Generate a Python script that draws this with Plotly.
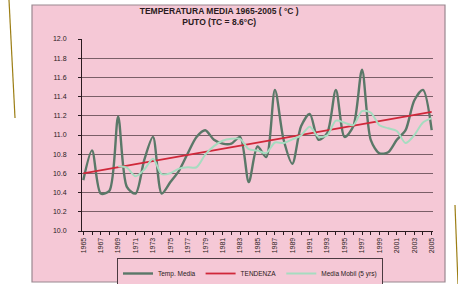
import plotly.graph_objects as go
import pandas as pd

years = list(range(1965, 2006))
temp_media = [10.53, 10.84, 10.39, 10.42, 11.19, 10.46, 10.39, 10.74, 10.98, 10.39,
              10.51, 10.63, 10.81, 10.98, 11.05, 10.95, 10.91, 10.91, 10.98, 10.51,
              10.88, 10.77, 11.47, 10.95, 10.70, 11.09, 11.22, 10.95, 11.02, 11.47,
              10.98, 11.09, 11.68, 10.95, 10.81, 10.82, 10.95, 11.05, 11.36, 11.47,
              11.05]
trend_years = [1965, 2005]
trend_values = [10.60, 11.24]
y_ticks = [10.0, 10.2, 10.4, 10.6, 10.8, 11.0, 11.2, 11.4, 11.6, 11.8, 12.0]

media_mobile = pd.Series(temp_media).rolling(5).mean().tolist()

L, R, T, B = 82, 25, 39, 53
W, H = 458, 284
pw, ph = W - L - R, H - T - B

def px(x):
    return (x - L) / pw

def py(y):
    return (H - B - y) / ph

fig = go.Figure()
fig.add_trace(go.Scatter(x=years, y=temp_media, mode="lines", name="Temp. Media",
                         line=dict(color="#5a7868", width=2.4, shape="spline", smoothing=0.8)))
fig.add_trace(go.Scatter(x=trend_years, y=trend_values, mode="lines", name="TENDENZA",
                         line=dict(color="#d0283a", width=1.8)))
fig.add_trace(go.Scatter(x=years, y=media_mobile, mode="lines", name="Media Mobil (5 yrs)",
                         line=dict(color="#a6dcc0", width=2, shape="spline", smoothing=0.8)))

shapes = [
    dict(type="rect", xref="paper", yref="paper", x0=px(32), x1=px(445), y0=py(282), y1=py(5),
         fillcolor="#f5c8d6", line=dict(color="#9a8890", width=1.2), layer="below"),
    dict(type="line", xref="paper", yref="paper", x0=px(9), x1=px(15), y0=py(0), y1=py(118),
         line=dict(color="#9c7e14", width=1.2)),
    dict(type="line", xref="paper", yref="paper", x0=px(455), x1=px(458), y0=py(205), y1=py(284),
         line=dict(color="#9c7e14", width=1.2)),
]

fig.update_layout(
    width=W, height=H,
    margin=dict(l=L, r=R, t=T, b=B, pad=0, autoexpand=False),
    paper_bgcolor="white",
    plot_bgcolor="rgba(0,0,0,0)",
    shapes=shapes,
    showlegend=True,
    title=dict(text="<b>TEMPERATURA MEDIA 1965-2005 ( °C )</b><br><b>PUTO (TC = 8.6°C)</b>",
               x=px(250), xanchor="center", y=1 - 14 / H, yanchor="top",
               font=dict(family="Arial, Liberation Sans", size=8.5, color="#2a1a20")),
    legend=dict(orientation="h", x=px(250), xanchor="center", y=py(258), yanchor="top",
                bgcolor="#f5c8d6", bordercolor="#4a3a40", borderwidth=1,
                font=dict(family="Arial, Liberation Sans", size=6.5, color="#2a1a20"),
                itemwidth=30, tracegroupgap=0),
    font=dict(family="Arial, Liberation Sans", size=7, color="#2a1a20"),
)
fig.update_xaxes(range=[1964.85, 2005.15], tickmode="linear", tick0=1965, dtick=2,
                 tickangle=-90, showgrid=False, showline=True, linecolor="#2a1a20",
                 linewidth=1, ticks="outside", ticklen=3, tickcolor="#2a1a20",
                 minor=dict(ticks="outside", dtick=1, tick0=1965, ticklen=3, tickcolor="#2a1a20"),
                 tickfont=dict(size=7), zeroline=False)
fig.update_yaxes(range=[10.0, 12.0], tickvals=y_ticks, ticktext=[f"{v:.1f}" for v in y_ticks],
                 showgrid=True, gridcolor="#7a5f68", gridwidth=1.2,
                 showline=True, linecolor="#2a1a20", linewidth=1, ticks="outside", ticklen=3,
                 tickcolor="#2a1a20", tickfont=dict(size=7), ticklabelstandoff=10,
                 zeroline=False)

fig.write_html("out.html", config={"displayModeBar": False},
               post_script="document.body.style.margin='0';document.body.style.overflow='hidden';")
